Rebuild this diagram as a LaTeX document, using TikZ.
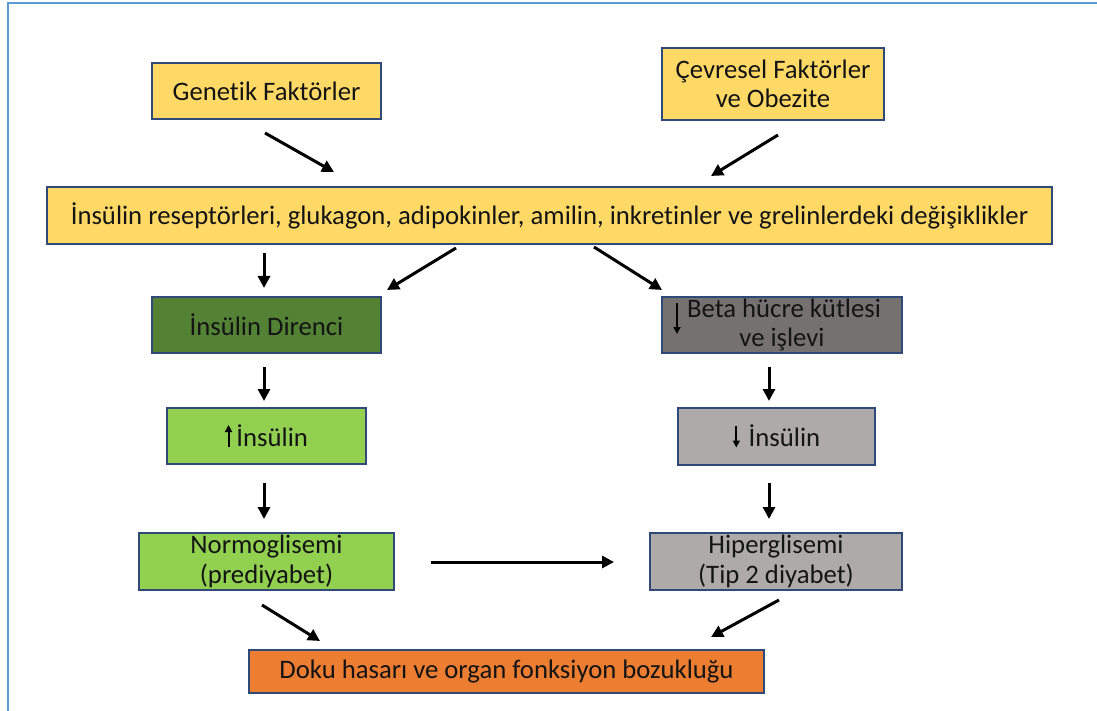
\documentclass[tikz,border=0pt]{standalone}
\usepackage{fontspec}
\setmainfont[Ligatures={NoCommon}]{Carlito}
\usetikzlibrary{arrows.meta}
\definecolor{frameblue}{HTML}{5B9BD5}
\definecolor{boxline}{HTML}{2F4A78}
\definecolor{cyellow}{HTML}{FFD966}
\definecolor{cdgreen}{HTML}{548235}
\definecolor{cdgray}{HTML}{767171}
\definecolor{clgreen}{HTML}{92D050}
\definecolor{clgray}{HTML}{AEAAAA}
\definecolor{corange}{HTML}{ED7D31}
\definecolor{ctext}{HTML}{141414}
\newcommand{\upar}{\tikz[baseline=0pt]\draw[-{Triangle[length=7pt,width=7pt]},line width=2pt,black] (0,-1pt) -- (0,21pt);}
\newcommand{\dnar}{\tikz[baseline=0pt]\draw[-{Triangle[length=7pt,width=7pt]},line width=2pt,black] (0,21pt) -- (0,-1pt);}
\begin{document}
\begin{tikzpicture}[x=1pt,y=-1pt,
  box/.style={draw=boxline,line width=1.3pt,align=center,inner sep=0pt,text=ctext,
    font=\fontsize{26.7}{29.5}\selectfont},
  conn/.style={-{Triangle[length=12pt,width=12pt]},line width=3pt,black}]
\useasboundingbox (0,0) rectangle (1097,711);
\fill[white] (0,0) rectangle (1097,711);
\draw[frameblue,line width=2pt] (8,711) -- (8,3) -- (1097,3);

\node[box,fill=cyellow,minimum width=229,minimum height=56] (gen) at (266.5,91) {Genetik Faktörler};
\node[box,fill=cyellow,minimum width=222,minimum height=72] (cev) at (773,84) {Çevresel Faktörler\\ve Obezite};
\node[box,fill=cyellow,minimum width=1005,minimum height=57] (ins) at (549.5,215.5) {İnsülin reseptörleri, glukagon, adipokinler, amilin, inkretinler ve grelinlerdeki değişiklikler};
\node[box,fill=cdgreen,minimum width=229,minimum height=56] (dir) at (266.5,325) {İnsülin Direnci};
\node[box,fill=cdgray,minimum width=240,minimum height=56] (beta) at (782,325) {\hspace*{4pt}Beta hücre kütlesi\\ve işlevi};
\node[box,fill=clgreen,minimum width=199,minimum height=56] (upi) at (266.5,436) {\upar\,İnsülin};
\node[box,fill=clgray,minimum width=197,minimum height=57] (dni) at (776.5,436.5) {\dnar\,\,İnsülin};
\node[box,fill=clgreen,minimum width=255,minimum height=57] (nor) at (266.5,561.5) {Normoglisemi\\(prediyabet)};
\node[box,fill=clgray,minimum width=252,minimum height=57] (hip) at (776,561.5) {Hiperglisemi\\(Tip 2 diyabet)};
\node[box,fill=corange,minimum width=515,minimum height=43] (dok) at (506.5,671.5) {Doku hasarı ve organ fonksiyon bozukluğu};

% inline arrow for beta box
\coordinate (b1) at (677,303);
\coordinate (b2) at (677,334);
\draw[-{Triangle[length=7pt,width=7pt]},line width=2pt,black] (b1) -- (b2);

% connectors
\coordinate (a1s) at (265,133); \coordinate (a1e) at (334,172);
\coordinate (a2s) at (778,135); \coordinate (a2e) at (711,176);
\coordinate (a3s) at (264,253); \coordinate (a3e) at (264,288);
\coordinate (a4s) at (456,248); \coordinate (a4e) at (387,290);
\coordinate (a5s) at (594,247); \coordinate (a5e) at (662,290);
\coordinate (a6s) at (264,367); \coordinate (a6e) at (264,401);
\coordinate (a7s) at (769,367); \coordinate (a7e) at (769,401);
\coordinate (a8s) at (264,483); \coordinate (a8e) at (264,519);
\coordinate (a9s) at (769,483); \coordinate (a9e) at (769,519);
\coordinate (a10s) at (431,562); \coordinate (a10e) at (614,562);
\coordinate (a11s) at (262,605); \coordinate (a11e) at (320,641);
\coordinate (a12s) at (779,600); \coordinate (a12e) at (711,637);
\foreach \i in {1,...,12} \draw[conn] (a\i s) -- (a\i e);
\end{tikzpicture}
\end{document}
